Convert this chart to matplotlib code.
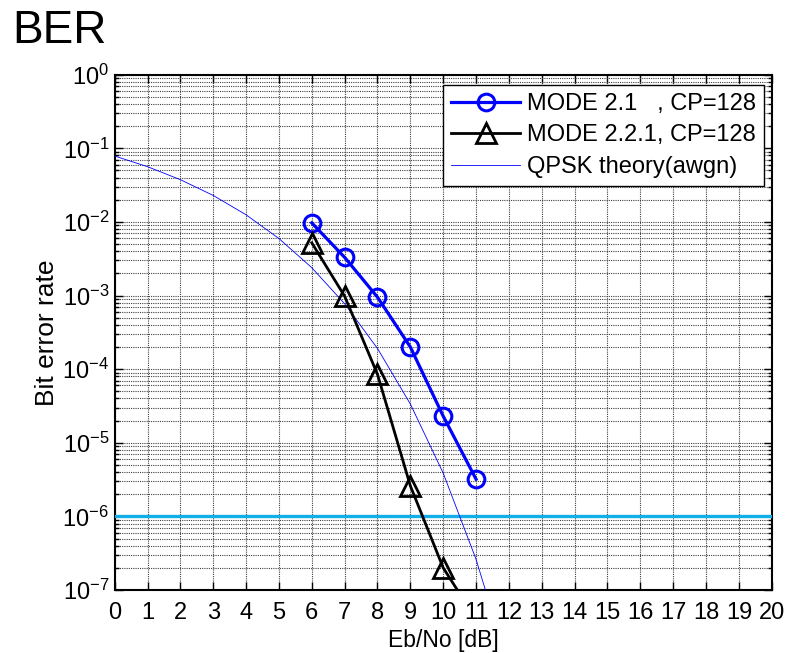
import numpy as np
import matplotlib
matplotlib.use('Agg')
import matplotlib.pyplot as plt
from matplotlib.ticker import FixedLocator, NullFormatter, MultipleLocator

plt.rcParams['font.family'] = ['Liberation Sans', 'DejaVu Sans']
plt.rcParams['mathtext.fontset'] = 'custom'
plt.rcParams['mathtext.rm'] = 'Liberation Sans'
plt.rcParams['axes.unicode_minus'] = False

# data
ebno_mode21 = [6, 7, 8, 9, 10, 11]
ber_mode21 = [9.7e-3, 3.3e-3, 9.5e-4, 2.0e-4, 2.3e-5, 3.2e-6]

ebno_mode221 = [6, 7, 8, 9, 10, 11]
ber_mode221 = [5.2e-3, 9.8e-4, 8.5e-5, 2.6e-6, 2.0e-7, 4.0e-8]

ebno_theory = [0, 1, 2, 3, 4, 5, 6, 7, 8, 9, 10, 11, 12]
ber_theory = [7.86e-2, 5.63e-2, 3.75e-2, 2.29e-2, 1.25e-2, 5.95e-3, 2.39e-3,
              7.73e-4, 1.91e-4, 3.36e-5, 3.87e-6, 2.61e-7, 9.0e-9]

target_ber = 1e-6
labels = ['MODE 2.1   , CP=128', 'MODE 2.2.1, CP=128', 'QPSK theory(awgn)']

fig = plt.figure(figsize=(7.87, 6.53), dpi=100)
ax = fig.add_axes([0.1457, 0.0965, 0.8349, 0.7891])

ax.semilogy(ebno_mode21, ber_mode21, '-o', color='#0000ff', lw=2.3,
            ms=12, mew=2.2, mfc='none', label=labels[0], zorder=5)
ax.semilogy(ebno_mode221, ber_mode221, '-^', color='black', lw=2.0,
            ms=15, mew=2.0, mfc='none', label=labels[1], zorder=5)
ax.semilogy(ebno_theory, ber_theory, '-', color='#0000ff', lw=0.6,
            label=labels[2], zorder=4)
ax.axhline(target_ber, color='#12aee8', lw=2.4, zorder=3)

ax.set_xlim(0, 20)
ax.set_ylim(1e-7, 1e0)
decades = 10.0 ** np.arange(-7, 1)
minors = [m * d for d in decades[:-1] for m in range(2, 10)]
ax.xaxis.set_major_locator(MultipleLocator(1))
ax.yaxis.set_major_locator(FixedLocator(decades))
ax.yaxis.set_minor_locator(FixedLocator(minors))
ax.yaxis.set_minor_formatter(NullFormatter())

ax.grid(True, which='major', color='0.25', ls=(0, (1, 1)), lw=0.8)
ax.grid(True, which='minor', axis='y', color='0.25', ls=(0, (1, 1)), lw=0.8)

ax.tick_params(which='both', direction='in', top=True, right=True)
ax.tick_params(which='major', labelsize=17, length=6, width=1)
ax.tick_params(which='minor', length=3, width=1,
               labelleft=False, labelbottom=False)
ax.tick_params(axis='x', pad=9)
ax.tick_params(axis='y', pad=4)
for s in ax.spines.values():
    s.set_linewidth(1.5)

ax.set_xlabel('Eb/No [dB]', fontsize=16.5, labelpad=3)
ax.set_ylabel('Bit error rate', fontsize=19, labelpad=2)

fig.text(0.016, 0.934, 'BER', fontsize=33, ha='left', va='baseline')

leg = ax.legend(loc='upper right', bbox_to_anchor=(0.9885, 0.9807),
                fontsize=17, handlelength=2.9, borderaxespad=0,
                fancybox=False, framealpha=1, edgecolor='black',
                labelspacing=0.4, borderpad=0.35, handletextpad=0.3)
leg.get_frame().set_linewidth(1.0)

fig.savefig('out.png', dpi=100)
